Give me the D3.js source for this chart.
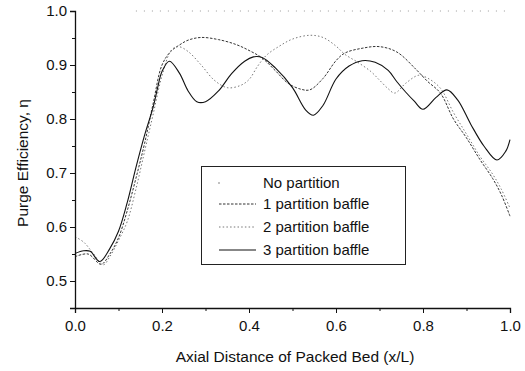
<!DOCTYPE html>
<html>
<head>
<meta charset="utf-8">
<script src="https://cdn.jsdelivr.net/npm/d3@7"></script>
<style>
body { margin: 0; background: #fff; }
text { font-family: "Liberation Sans", Arial, sans-serif; fill: #111; }
</style>
</head>
<body>
<script>
// series values (x = x/L, y = purge efficiency)
var noPartX = [0.14, 1.0],
    noPartY = [1.0, 1.0];

var oneX = [0, 0.03, 0.06, 0.08, 0.10, 0.12, 0.14, 0.16, 0.18, 0.20, 0.22, 0.24, 0.26, 0.29, 0.33, 0.37, 0.40, 0.43, 0.46, 0.49, 0.52, 0.54, 0.57, 0.60, 0.62, 0.66, 0.70, 0.74, 0.785, 0.81, 0.84, 0.87, 0.90, 0.93, 0.96, 0.98, 1.0],
    oneY = [0.545, 0.55, 0.531, 0.55, 0.58, 0.63, 0.69, 0.755, 0.83, 0.9, 0.925, 0.937, 0.946, 0.951, 0.947, 0.938, 0.927, 0.913, 0.89, 0.866, 0.855, 0.854, 0.875, 0.908, 0.922, 0.931, 0.934, 0.924, 0.891, 0.87, 0.848, 0.80, 0.765, 0.726, 0.69, 0.66, 0.62];

var twoX = [0, 0.02, 0.04, 0.065, 0.08, 0.10, 0.12, 0.14, 0.16, 0.18, 0.20, 0.222, 0.238, 0.26, 0.29, 0.32, 0.35, 0.38, 0.40, 0.42, 0.44, 0.47, 0.50, 0.54, 0.57, 0.60, 0.62, 0.65, 0.68, 0.70, 0.72, 0.735, 0.76, 0.79, 0.81, 0.84, 0.87, 0.90, 0.93, 0.96, 0.98, 1.0],
    twoY = [0.582, 0.572, 0.553, 0.53, 0.545, 0.575, 0.61, 0.67, 0.74, 0.81, 0.88, 0.928, 0.934, 0.925, 0.90, 0.872, 0.858, 0.862, 0.873, 0.898, 0.918, 0.935, 0.948, 0.955, 0.951, 0.935, 0.92, 0.905, 0.888, 0.872, 0.856, 0.848, 0.866, 0.881, 0.876, 0.857, 0.812, 0.772, 0.732, 0.698, 0.67, 0.635];

var threeX = [0, 0.02, 0.035, 0.057, 0.08, 0.10, 0.12, 0.14, 0.16, 0.18, 0.19, 0.20, 0.217, 0.24, 0.26, 0.28, 0.30, 0.33, 0.36, 0.39, 0.41, 0.43, 0.46, 0.50, 0.53, 0.548, 0.57, 0.60, 0.63, 0.66, 0.69, 0.72, 0.74, 0.76, 0.78, 0.80, 0.83, 0.855, 0.88, 0.91, 0.94, 0.97, 0.99, 1.0],
    threeY = [0.551, 0.556, 0.555, 0.536, 0.56, 0.592, 0.645, 0.71, 0.77, 0.823, 0.858, 0.888, 0.907, 0.885, 0.852, 0.832, 0.832, 0.852, 0.884, 0.907, 0.915, 0.914, 0.895, 0.858, 0.817, 0.807, 0.825, 0.874, 0.898, 0.908, 0.905, 0.89, 0.869, 0.85, 0.833, 0.818, 0.84, 0.854, 0.835, 0.79, 0.75, 0.724, 0.74, 0.762];

var xTicks = [0, 0.2, 0.4, 0.6, 0.8, 1.0],
    yTicks = [0.5, 0.6, 0.7, 0.8, 0.9, 1.0];

var legendNames = ["No partition", "1 partition baffle", "2 partition baffle", "3 partition baffle"];

var width = 525, height = 371;

var svg = d3.select("body").append("svg")
    .attr("width", width)
    .attr("height", height);

var x = d3.scaleLinear().domain([0, 1]).range([75, 510]);
var y = d3.scaleLinear().domain([0.45, 1.0]).range([308, 11]);

function pairs(xs, ys) {
    return xs.map(function(v, i) { return [v, ys[i]]; });
}

var line = d3.line()
    .x(function(d) { return x(d[0]); })
    .y(function(d) { return y(d[1]); })
    .curve(d3.curveCatmullRom.alpha(0.5));

// styles for each series
var styles = [
    {stroke: "#999", width: 1, dash: "1,7"},
    {stroke: "#333", width: 1, dash: "2.5,1.5"},
    {stroke: "#777", width: 1, dash: "1.5,2.2"},
    {stroke: "#111", width: 1.1, dash: null}
];

var series = [
    pairs(noPartX, noPartY),
    pairs(oneX, oneY),
    pairs(twoX, twoY),
    pairs(threeX, threeY)
];

series.forEach(function(s, i) {
    svg.append("path")
        .datum(s)
        .attr("d", line)
        .attr("fill", "none")
        .attr("stroke", styles[i].stroke)
        .attr("stroke-width", styles[i].width)
        .attr("stroke-dasharray", styles[i].dash);
});

// axes
svg.append("g")
    .attr("transform", "translate(0," + y(0.45) + ")")
    .call(d3.axisBottom(x).tickValues(xTicks).tickFormat(d3.format(".1f")).tickSize(5).tickPadding(7));

svg.append("g")
    .attr("transform", "translate(0," + y(0.45) + ")")
    .call(d3.axisBottom(x).tickValues([0.1, 0.3, 0.5, 0.7, 0.9]).tickFormat("").tickSize(3))
    .select(".domain").remove();

svg.append("g")
    .attr("transform", "translate(" + x(0) + ",0)")
    .call(d3.axisLeft(y).tickValues(yTicks).tickFormat(d3.format(".1f")).tickSize(5).tickPadding(3));

svg.append("g")
    .attr("transform", "translate(" + x(0) + ",0)")
    .call(d3.axisLeft(y).tickValues([0.55, 0.65, 0.75, 0.85, 0.95]).tickFormat("").tickSize(3))
    .select(".domain").remove();

svg.selectAll(".domain").attr("stroke", "#111").attr("stroke-width", 1.3);
svg.selectAll(".tick line").attr("stroke", "#111");
svg.selectAll(".tick text").style("font-size", "15px").style("font-family", "Liberation Sans, Arial, sans-serif");

// axis titles
svg.append("text")
    .attr("x", 295)
    .attr("y", 362)
    .attr("text-anchor", "middle")
    .style("font-size", "15.5px")
    .text("Axial Distance of Packed Bed (x/L)");

svg.append("text")
    .attr("transform", "translate(28,163) rotate(-90)")
    .attr("text-anchor", "middle")
    .style("font-size", "15.5px")
    .text("Purge Efficiency, η");

// legend
var legend = svg.append("g");
legend.append("rect")
    .attr("x", 201.5).attr("y", 166.5)
    .attr("width", 204).attr("height", 98)
    .attr("fill", "#fff")
    .attr("stroke", "#222")
    .attr("stroke-width", 1);

var legY = [183, 204, 227, 250];
legendNames.forEach(function(name, i) {
    if (i === 0) {
        legend.append("circle")
            .attr("cx", 219).attr("cy", legY[i])
            .attr("r", 0.7).attr("fill", "#555");
    } else {
        legend.append("line")
            .attr("x1", 219).attr("x2", 256)
            .attr("y1", legY[i]).attr("y2", legY[i])
            .attr("stroke", styles[i].stroke)
            .attr("stroke-width", styles[i].width)
            .attr("stroke-dasharray", styles[i].dash);
    }
    legend.append("text")
        .attr("x", 263)
        .attr("y", legY[i])
        .attr("dy", "0.35em")
        .style("font-size", "15px")
        .text(name);
});
</script>
</body>
</html>
